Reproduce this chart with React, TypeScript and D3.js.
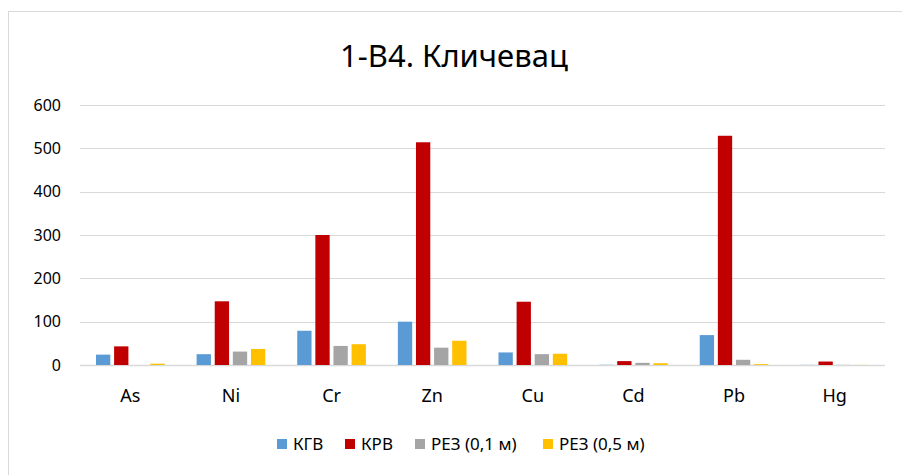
import React from 'react';
import * as d3 from 'd3';

const categories = ['As', 'Ni', 'Cr', 'Zn', 'Cu', 'Cd', 'Pb', 'Hg'];
const seriesNames = ['КГВ', 'КРВ', 'РЕЗ (0,1 м)', 'РЕЗ (0,5 м)'];
const seriesColors = ['#5B9BD5', '#C00000', '#A5A5A5', '#FFC000'];

const kgv = [24, 25, 79, 100, 29, 0.5, 69, 0.3];
const krv = [43, 147, 300, 514, 146, 9, 529, 8];
const rez01 = [0, 31, 44, 40, 25, 5, 12, 0.3];
const rez05 = [3, 37, 48, 56, 26, 4, 2, 0.2];
const seriesValues = [kgv, krv, rez01, rez05];

const yTicks = [0, 100, 200, 300, 400, 500, 600];

const W = 902;
const H = 475;
const font = '"Noto Sans", sans-serif';

const App: React.FC = () => {
  const margin = { top: 105, right: 17, bottom: 110, left: 80 };

  const x0 = d3.scaleBand<string>()
    .domain(categories)
    .range([margin.left, W - margin.right]);

  const y = d3.scaleLinear()
    .domain([0, 600])
    .range([H - margin.bottom, margin.top]);

  const band = x0.bandwidth();
  const slot = band * 0.18;
  const barW = slot * 0.79;

  const legendX = [277, 345, 415, 543];

  return (
    <svg width={W} height={H} style={{ position: 'absolute', left: 0, top: 0, background: '#fff' }}>
      {/* chart frame */}
      <rect x={8.5} y={11.5} width={W + 10} height={H + 10} fill="none" stroke="#D9D9D9" strokeWidth={1} />

      <text x={454} y={67} textAnchor="middle" fontFamily={font} fontSize={31} fill="#000">
        1-В4. Кличевац
      </text>

      {yTicks.map(t => (
        <g key={t}>
          <line x1={margin.left} x2={W - margin.right} y1={Math.round(y(t)) + 0.5} y2={Math.round(y(t)) + 0.5}
            stroke="#D9D9D9" strokeWidth={t === 0 ? 1.5 : 1.2} />
          <text x={61} y={y(t)} dy="0.35em" textAnchor="end" fontFamily={font} fontSize={16} fill="#000">
            {t}
          </text>
        </g>
      ))}

      {categories.map((c, i) => {
        const cx = (x0(c) ?? 0) + band / 2;
        return (
          <g key={c}>
            {seriesValues.map((vals, s) => {
              const v = vals[i];
              const bx = cx - 2 * slot + s * slot + (slot - barW) / 2;
              return (
                <rect key={s} x={bx} y={y(v)} width={barW} height={y(0) - y(v)} fill={seriesColors[s]} />
              );
            })}
            <text x={cx} y={402} textAnchor="middle" fontFamily={font} fontSize={18} fill="#000">
              {c}
            </text>
          </g>
        );
      })}

      {seriesNames.map((n, s) => (
        <g key={n} transform={`translate(${legendX[s]},439)`}>
          <rect x={0} y={0} width={10} height={10} fill={seriesColors[s]} />
          <text x={16} y={5} dy="0.35em" fontFamily={font} fontSize={17} fill="#000">{n}</text>
        </g>
      ))}
    </svg>
  );
};

export default App;
